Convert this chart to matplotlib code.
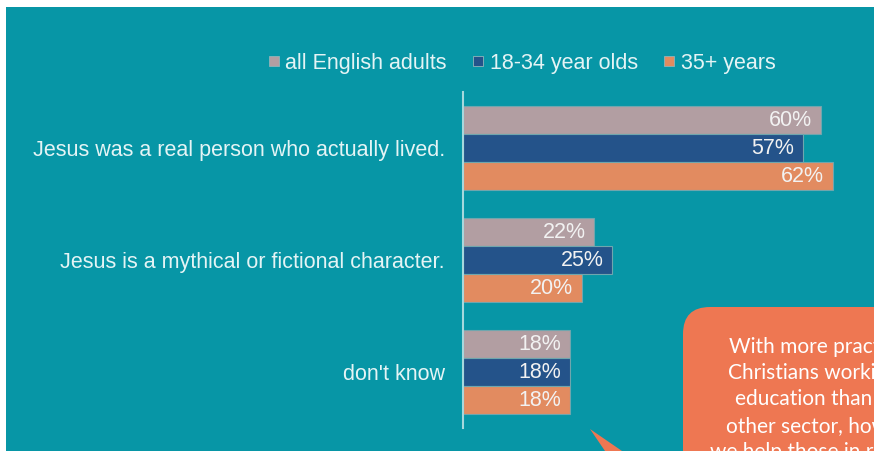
import matplotlib
matplotlib.use("Agg")
import matplotlib.pyplot as plt
import numpy as np
from matplotlib.patches import Rectangle, FancyBboxPatch, Polygon
from matplotlib.lines import Line2D

statements = [
    "Jesus was a real person who actually lived.",
    "Jesus is a mythical or fictional character.",
    "don't know",
]
series_names = ["all English adults", "18-34 year olds", "35+ years"]
all_adults = [60, 22, 18]
young = [57, 25, 18]
older = [62, 20, 18]

callout_lines = [
    "With more practising",
    "Christians working in",
    "education than in any",
    "other sector, how can",
    "we help those in roles",
]

teal = "#0796A6"
colors = ["#B29EA2", "#24538A", "#E28B60"]
text_col = "#E4F4F5"

W, H = 874, 451
fig = plt.figure(figsize=(W / 100, H / 100), dpi=100)
fig.patch.set_facecolor("white")

# teal panel
fig.add_artist(Rectangle((6 / W, 0), 1, (H - 7) / H, transform=fig.transFigure,
                         facecolor=teal, edgecolor="none", zorder=0))

ax = fig.add_axes([463 / W, (H - 428) / H, (870 - 463) / W, (428 - 92) / H])
ax.set_facecolor("none")

y = np.arange(len(statements))
h = 0.25
for i, (vals, c) in enumerate(zip([all_adults, young, older], colors)):
    pos = y + (i - 1) * h
    ax.barh(pos, vals, height=h * 0.97, color=c, edgecolor="#6FA6AE",
            linewidth=0.8, zorder=2)
    for p, v in zip(pos, vals):
        ax.text(v - 1.5, p, f"{v}%", ha="right", va="center",
                fontsize=15.5, color="#F2F2F2", family="Liberation Sans",
                zorder=3)

ax.set_xlim(0, (870 - 463) / 5.97)
ax.set_ylim(2.5, -0.5)
ax.set_yticks(y)
ax.set_yticklabels(statements, fontsize=15.5, color=text_col,
                   family="Liberation Sans")
ax.tick_params(axis="y", length=0, pad=13)
ax.set_xticks([])
for s in ["top", "right", "bottom"]:
    ax.spines[s].set_visible(False)
ax.spines["left"].set_color("#A6D8DD")
ax.spines["left"].set_linewidth(1.5)

# legend
handles = [Line2D([], [], marker="s", linestyle="none", markersize=7,
                  markerfacecolor=c, markeredgecolor="#8FB5BA",
                  markeredgewidth=0.6) for c in colors]
leg = fig.legend(handles, series_names, loc="center",
                 bbox_to_anchor=(522 / W, (H - 63) / H), ncol=3,
                 frameon=False, handlelength=0.5, handletextpad=0.3,
                 columnspacing=1.2, prop={"family": "Liberation Sans", "size": 15.5})
for t in leg.get_texts():
    t.set_color(text_col)

# callout box
tr = fig.dpi_scale_trans
fig.add_artist(FancyBboxPatch((6.83, -1.0), 3.0, 1.0 + (H - 307) / 100,
                              boxstyle="round,pad=0,rounding_size=0.27",
                              transform=tr, facecolor="#EE7752",
                              edgecolor="none", zorder=5))
fig.add_artist(Polygon([(5.90, (H - 429) / 100), (6.22, 0), (6.05, 0)],
                       closed=True, transform=tr, facecolor="#EE7752",
                       edgecolor="none", zorder=5))
xs = [729, 728, 735, 726, 710]
for k, (line, x0) in enumerate(zip(callout_lines, xs)):
    base = 353 + 26.2 * k
    fig.text(x0 / W, (H - base) / H, line, ha="left", va="baseline",
             fontsize=15, color="white", family="Lato", zorder=6)

fig.savefig("out.png", dpi=100, facecolor=fig.get_facecolor())
